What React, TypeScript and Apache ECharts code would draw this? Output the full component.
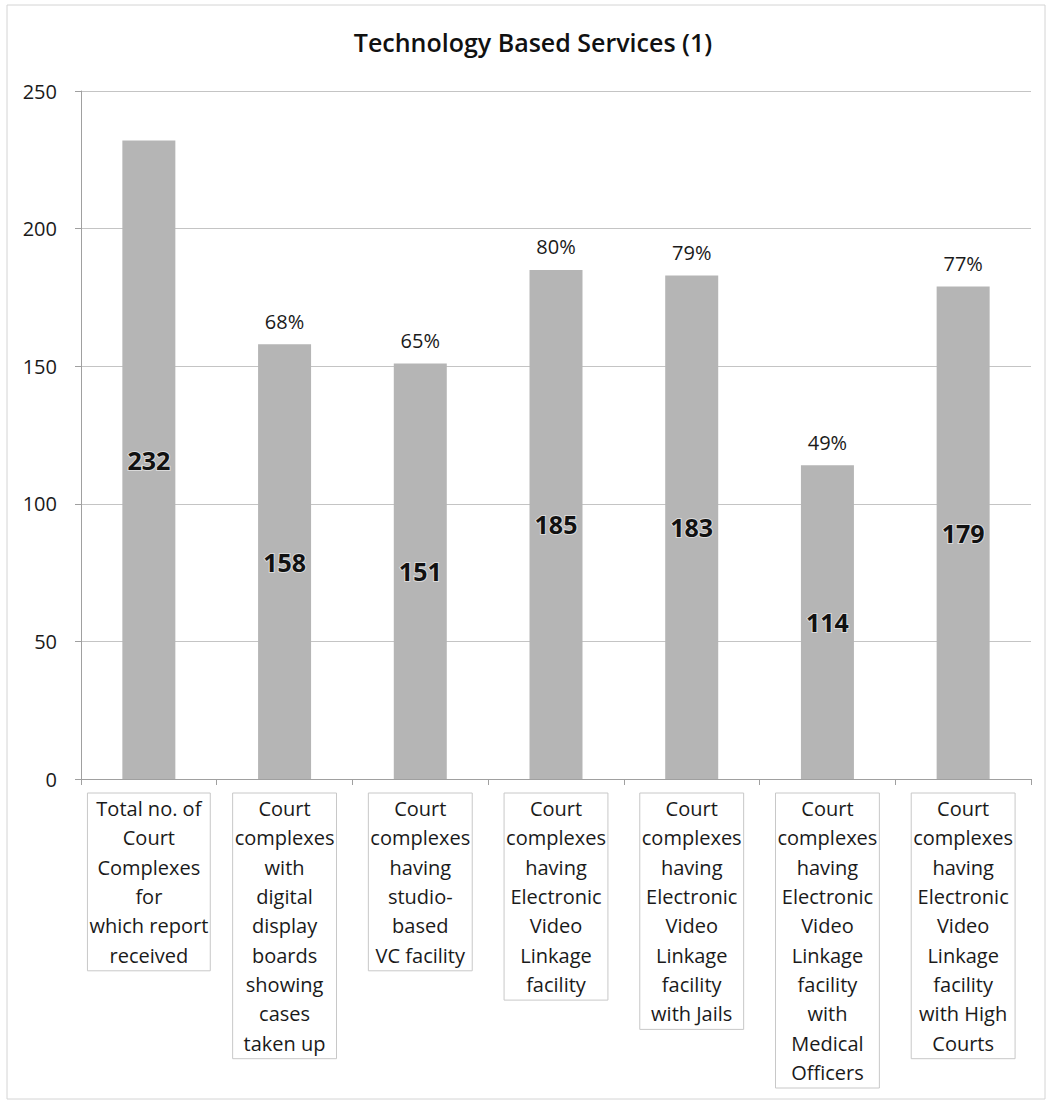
import React, { useEffect, useRef } from "react";
import * as echarts from "echarts";

const TITLE = "Technology Based Services (1)";
const categories = [
  "Total no. of\nCourt\nComplexes\nfor\nwhich report\nreceived",
  "Court\ncomplexes\nwith\ndigital\ndisplay\nboards\nshowing\ncases\ntaken up",
  "Court\ncomplexes\nhaving\nstudio-\nbased\nVC facility",
  "Court\ncomplexes\nhaving\nElectronic\nVideo\nLinkage\nfacility",
  "Court\ncomplexes\nhaving\nElectronic\nVideo\nLinkage\nfacility\nwith Jails",
  "Court\ncomplexes\nhaving\nElectronic\nVideo\nLinkage\nfacility\nwith\nMedical\nOfficers",
  "Court\ncomplexes\nhaving\nElectronic\nVideo\nLinkage\nfacility\nwith High\nCourts",
];
const values = [232, 158, 151, 185, 183, 114, 179];
const percentLabels = ["", "68%", "65%", "80%", "79%", "49%", "77%"];
const yMin = 0;
const yMax = 250;
const yInterval = 50;

const FONT = "'Open Sans', 'Noto Sans', sans-serif";

export default function App() {
  const ref = useRef<HTMLDivElement>(null);
  useEffect(() => {
    document.body.style.margin = "0";
    const chart = echarts.init(ref.current!, null, { renderer: "svg" });
    chart.setOption({
      animation: false,
      backgroundColor: "#ffffff",
      textStyle: { fontFamily: FONT },
      graphic: [
        {
          type: "rect",
          shape: { x: 7, y: 5, width: 1038, height: 1094 },
          style: { fill: "none", stroke: "#d4d4d4", lineWidth: 1 },
          silent: true,
        },
        {
          type: "text",
          x: 533,
          y: 42,
          style: {
            text: TITLE,
            fontFamily: FONT,
            fontSize: 25,
            fontWeight: 600,
            fill: "#111111",
            align: "center",
            verticalAlign: "middle",
          },
        },
      ],
      grid: { left: 81, right: 17, top: 91, bottom: 323, containLabel: false },
      xAxis: {
        type: "category",
        data: categories,
        axisLine: { lineStyle: { color: "#a0a0a0", width: 1 } },
        axisTick: { show: true, length: 6, lineStyle: { color: "#a0a0a0" } },
        axisLabel: {
          interval: 0,
          fontFamily: FONT,
          fontSize: 20,
          lineHeight: 29.3,
          color: "#1a1a1a",
          margin: 14,
          borderColor: "#c8c8c8",
          borderWidth: 1,
          padding: [1, 2, 1, 2],
          verticalAlign: "top",
        },
      },
      yAxis: {
        type: "value",
        min: yMin,
        max: yMax,
        interval: yInterval,
        axisLine: { show: true, lineStyle: { color: "#a0a0a0", width: 1 } },
        axisTick: { show: true, length: 6, lineStyle: { color: "#a0a0a0" } },
        splitLine: { lineStyle: { color: "#c4c4c4", width: 1 } },
        axisLabel: {
          fontFamily: FONT,
          fontSize: 20,
          color: "#1a1a1a",
          margin: 24,
        },
      },
      series: [
        {
          type: "bar",
          data: values,
          barWidth: 53,
          itemStyle: { color: "#b5b5b5" },
          label: {
            show: true,
            position: "inside",
            fontFamily: FONT,
            fontSize: 25,
            fontWeight: "bold",
            color: "#111111",
            textBorderColor: "rgba(255,255,255,0.5)",
            textBorderWidth: 2,
          },
          z: 2,
        },
        {
          type: "bar",
          data: values,
          barWidth: 53,
          barGap: "-100%",
          silent: true,
          itemStyle: { color: "rgba(0,0,0,0)" },
          label: {
            show: true,
            position: "top",
            distance: 13,
            fontFamily: FONT,
            fontSize: 20,
            color: "#1a1a1a",
            formatter: (p: any) => percentLabels[p.dataIndex],
          },
          z: 3,
        },
      ],
    });
    return () => chart.dispose();
  }, []);
  return <div ref={ref} style={{ width: 1048, height: 1102 }} />;
}
